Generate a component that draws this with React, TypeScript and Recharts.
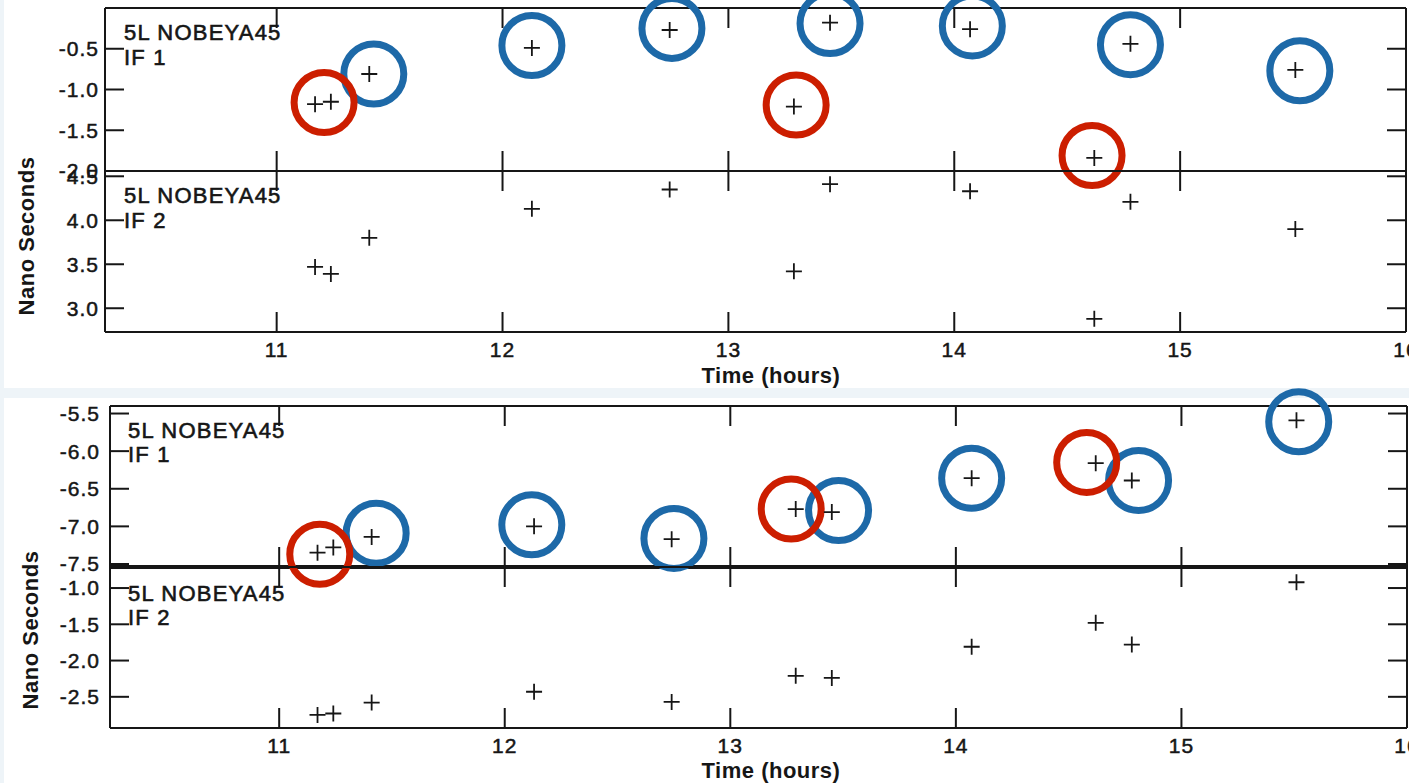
import React from 'react';
import { ScatterChart, Scatter, XAxis, YAxis } from 'recharts';

const W = 1409;
const H = 783;

// Observation times (hours)
const times = [11.17, 11.24, 11.41, 12.13, 12.74, 13.29, 13.45, 14.07, 14.62, 14.78, 15.51];

// Upper figure (nano seconds)
const upperIF1 = [-1.18, -1.15, -0.81, -0.49, -0.27, -1.21, -0.18, -0.26, -1.84, -0.44, -0.76];
const upperIF2 = [3.47, 3.39, 3.8, 4.13, 4.35, 3.42, 4.41, 4.33, 2.88, 4.21, 3.9];
// Lower figure (nano seconds)
const lowerIF1 = [-7.35, -7.28, -7.14, -7.0, -7.17, -6.77, -6.81, -6.36, -6.16, -6.39, -5.59];
const lowerIF2 = [-2.75, -2.73, -2.58, -2.43, -2.57, -2.21, -2.24, -1.81, -1.48, -1.78, -0.92];

// Highlight circles: centre time, centre value, colour class
const upperRingTimes = [11.21, 11.43, 12.13, 12.75, 13.3, 13.45, 14.08, 14.61, 14.78, 15.53];
const upperRingValues = [-1.16, -0.81, -0.46, -0.25, -1.19, -0.19, -0.22, -1.81, -0.45, -0.77];
const upperRingKinds = ['red', 'blue', 'blue', 'blue', 'red', 'blue', 'blue', 'red', 'blue', 'blue'];
const lowerRingTimes = [11.18, 11.43, 12.12, 12.75, 13.27, 13.48, 14.07, 14.58, 14.81, 15.52];
const lowerRingValues = [-7.37, -7.09, -6.98, -7.16, -6.77, -6.79, -6.36, -6.15, -6.39, -5.61];
const lowerRingKinds = ['red', 'blue', 'blue', 'blue', 'red', 'blue', 'blue', 'red', 'blue', 'blue'];

// Axes
const xTicks = [11, 12, 13, 14, 15, 16];
const upperXDomain = [10.24, 16.0];
const lowerXDomain = [10.25, 16.0];
const upperIF1Ticks = [-2.0, -1.5, -1.0, -0.5];
const upperIF1Domain = [-2.0, 0.0];
const upperIF2Ticks = [3.0, 3.5, 4.0, 4.5];
const upperIF2Domain = [2.73, 4.56];
const lowerIF1Ticks = [-7.5, -7.0, -6.5, -6.0, -5.5];
const lowerIF1Domain = [-7.54, -5.4];
const lowerIF2Ticks = [-2.5, -2.0, -1.5, -1.0];
const lowerIF2Domain = [-2.93, -0.71];

// Texts
const stationLabel = '5L NOBEYA45';
const ifLabels = ['IF 1', 'IF 2'];
const xTitle = 'Time (hours)';
const yTitle = 'Nano Seconds';

const RED = '#cc1e00';
const BLUE = '#1d69a8';
const INK = '#161616';
const FONT = '"Liberation Sans", Arial, Helvetica, sans-serif';

const plusShape = (p: any) => {
  const { cx, cy } = p;
  if (cx == null || cy == null) return <g />;
  return (
    <path
      d={`M${cx - 8},${cy}H${cx + 8}M${cx},${cy - 8}V${cy + 8}`}
      stroke={INK}
      strokeWidth={1.8}
      fill="none"
    />
  );
};

const ringShape = (color: string) => (p: any) => {
  const { cx, cy } = p;
  if (cx == null || cy == null) return <g />;
  return <circle cx={cx} cy={cy} r={30} fill="none" stroke={color} strokeWidth={7} />;
};

const emptyShape = () => <g />;

type PanelProps = {
  left: number;
  top: number;
  right: number;
  bottom: number;
  xDomain: number[];
  yDomain: number[];
  yTicks: number[];
  values: number[];
  ringT?: number[];
  ringV?: number[];
  ringK?: string[];
  labeledX: boolean;
  bottomLineWidth: number;
  yLabelGap: number;
};

function Panel(props: PanelProps) {
  const { left, top, right, bottom, xDomain, yDomain, yTicks, values, ringT, ringV, ringK, labeledX, bottomLineWidth, yLabelGap } = props;
  const xH = labeledX ? 30 : 0;
  const yW = 100;
  const margin = { top, left: left - yW, right: W - right, bottom: H - bottom - xH };
  const pts = times.map((t, i) => ({ t, v: values[i] }));
  const rings = ringT ? ringT.map((t, i) => ({ t, v: ringV![i], k: ringK![i] })) : [];
  const line = { stroke: INK, strokeWidth: 2 };
  const tickStyle = { fontSize: 21, fill: INK, fontFamily: FONT, stroke: INK, strokeWidth: 0.5, letterSpacing: 1 };
  return (
    <div style={{ position: 'absolute', left: 0, top: 0 }}>
      <ScatterChart width={W} height={H} margin={margin}>
        <XAxis
          xAxisId="x"
          dataKey="t"
          type="number"
          domain={xDomain}
          ticks={xTicks}
          interval={0}
          orientation="bottom"
          mirror={!labeledX}
          height={30}
          tick={labeledX ? tickStyle : emptyShape}
          tickSize={labeledX ? -20 : 20}
          tickMargin={labeledX ? 30 : 0}
          axisLine={{ ...line, strokeWidth: bottomLineWidth }}
          tickLine={line}
        />
        <XAxis
          xAxisId="xt"
          dataKey="t"
          type="number"
          domain={xDomain}
          ticks={xTicks}
          interval={0}
          orientation="top"
          mirror
          height={30}
          tick={emptyShape}
          tickSize={20}
          axisLine={line}
          tickLine={line}
        />
        <YAxis
          yAxisId="y"
          dataKey="v"
          type="number"
          domain={yDomain}
          ticks={yTicks}
          interval={0}
          orientation="left"
          width={yW}
          tick={tickStyle}
          tickFormatter={(v: number) => v.toFixed(1)}
          tickSize={-19}
          tickMargin={19 + yLabelGap}
          axisLine={line}
          tickLine={line}
        />
        <YAxis
          yAxisId="yr"
          type="number"
          domain={yDomain}
          allowDataOverflow
          ticks={yTicks}
          interval={0}
          orientation="right"
          mirror
          tick={emptyShape}
          tickSize={19}
          axisLine={line}
          tickLine={line}
        />
        <Scatter data={pts} xAxisId="xt" yAxisId="y" shape={emptyShape} isAnimationActive={false} />
        <Scatter
          data={rings.filter((r) => r.k === 'blue')}
          xAxisId="x"
          yAxisId="y"
          shape={ringShape(BLUE)}
          isAnimationActive={false}
        />
        <Scatter
          data={rings.filter((r) => r.k === 'red')}
          xAxisId="x"
          yAxisId="y"
          shape={ringShape(RED)}
          isAnimationActive={false}
        />
        <Scatter data={pts} xAxisId="x" yAxisId="y" shape={plusShape} isAnimationActive={false} />
      </ScatterChart>
    </div>
  );
}

const annStyle: React.CSSProperties = { fontFamily: FONT, fontSize: 22, fill: INK, stroke: INK, strokeWidth: 0.6, letterSpacing: 1.2 };
const titleStyle: React.CSSProperties = { fontFamily: FONT, fontSize: 22, fontWeight: 'bold', fill: INK, letterSpacing: 0.5 };

export default function App() {
  return (
    <div style={{ position: 'absolute', left: 0, top: 0, width: W, height: H, overflow: 'hidden', background: '#ffffff' }}>
      <div style={{ position: 'absolute', left: 0, top: 0, width: 4, height: H, background: '#eef4f8' }} />
      <div style={{ position: 'absolute', left: 0, top: 388, width: W, height: 10, background: '#eef4f8' }} />

      <Panel left={105} top={8} right={1406} bottom={171} xDomain={upperXDomain} yDomain={upperIF1Domain} yTicks={upperIF1Ticks}
        values={upperIF1} ringT={upperRingTimes} ringV={upperRingValues} ringK={upperRingKinds} labeledX={false} bottomLineWidth={2} yLabelGap={6} />
      <Panel left={105} top={171} right={1406} bottom={332} xDomain={upperXDomain} yDomain={upperIF2Domain} yTicks={upperIF2Ticks}
        values={upperIF2} labeledX bottomLineWidth={2} yLabelGap={6} />
      <Panel left={110} top={406} right={1407} bottom={567} xDomain={lowerXDomain} yDomain={lowerIF1Domain} yTicks={lowerIF1Ticks}
        values={lowerIF1} ringT={lowerRingTimes} ringV={lowerRingValues} ringK={lowerRingKinds} labeledX={false} bottomLineWidth={4} yLabelGap={10} />
      <Panel left={110} top={567} right={1407} bottom={728} xDomain={lowerXDomain} yDomain={lowerIF2Domain} yTicks={lowerIF2Ticks}
        values={lowerIF2} labeledX bottomLineWidth={2} yLabelGap={10} />

      <svg width={W} height={H} style={{ position: 'absolute', left: 0, top: 0, pointerEvents: 'none' }}>
        <text x={124} y={40} style={annStyle}>{stationLabel}</text>
        <text x={124} y={65} style={annStyle}>{ifLabels[0]}</text>
        <text x={124} y={203} style={annStyle}>{stationLabel}</text>
        <text x={124} y={228} style={annStyle}>{ifLabels[1]}</text>
        <text x={128} y={438} style={annStyle}>{stationLabel}</text>
        <text x={128} y={462} style={annStyle}>{ifLabels[0]}</text>
        <text x={128} y={601} style={annStyle}>{stationLabel}</text>
        <text x={128} y={625} style={annStyle}>{ifLabels[1]}</text>

        <text x={771} y={383} textAnchor="middle" style={titleStyle}>{xTitle}</text>
        <text x={771} y={778} textAnchor="middle" style={titleStyle}>{xTitle}</text>
        <text x={34} y={236} textAnchor="middle" transform="rotate(-90 34 236)" style={titleStyle}>{yTitle}</text>
        <text x={38} y={630} textAnchor="middle" transform="rotate(-90 38 630)" style={titleStyle}>{yTitle}</text>
      </svg>
    </div>
  );
}
